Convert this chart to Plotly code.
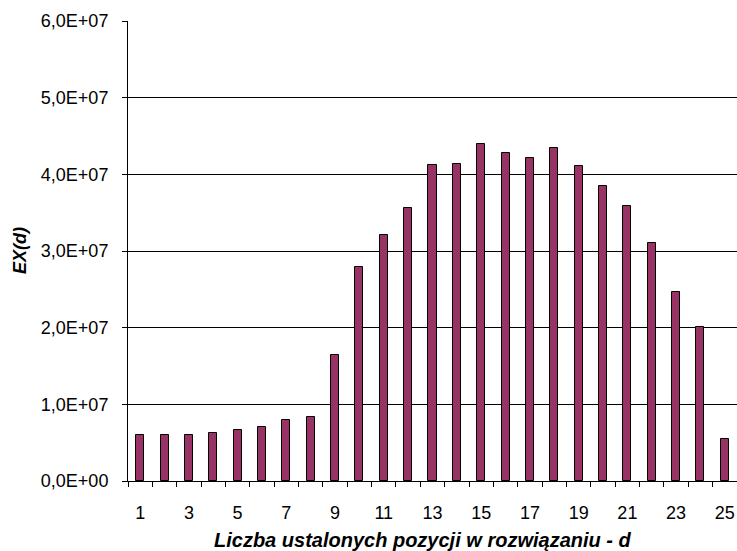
import plotly.graph_objects as go

d_values = list(range(1, 26))
ex_values = [6.0e6, 6.0e6, 5.95e6, 6.27e6, 6.7e6, 7.05e6, 7.93e6, 8.4e6, 16.46e6, 27.87e6,
             32.05e6, 35.57e6, 41.2e6, 41.3e6, 44.0e6, 42.8e6, 42.1e6, 43.4e6, 41.1e6, 38.5e6,
             35.9e6, 31.1e6, 24.7e6, 20.1e6, 5.5e6]
x_tick_vals = list(range(1, 26, 2))
y_tick_vals = [0, 1e7, 2e7, 3e7, 4e7, 5e7, 6e7]
y_tick_text = ["0,0E+00", "1,0E+07", "2,0E+07", "3,0E+07", "4,0E+07", "5,0E+07", "6,0E+07"]
x_title = "Liczba ustalonych pozycji w rozwiązaniu - d"
y_title = "EX(d)"

FONT = "Liberation Sans, Arial, sans-serif"

fig = go.Figure(go.Bar(
    x=d_values, y=ex_values, width=0.33,
    marker=dict(color="#993366", line=dict(color="black", width=1)),
))

fig.update_layout(
    width=737, height=551,
    margin=dict(l=128, r=0, t=21, b=70),
    paper_bgcolor="white", plot_bgcolor="white",
    font=dict(family=FONT, color="black", size=18),
    showlegend=False,
    bargap=0,
    annotations=[
        dict(text="<b><i>" + x_title + "</i></b>", xref="paper", yref="paper",
             x=0.4836, y=0, xanchor="center", yanchor="middle", yshift=-59,
             showarrow=False, font=dict(size=20)),
        dict(text="<b><i>" + y_title + "</i></b>", xref="paper", yref="paper",
             x=0, y=0.5, xanchor="center", yanchor="middle", xshift=-108,
             textangle=-90, showarrow=False, font=dict(size=18)),
    ],
)
fig.update_xaxes(
    range=[0.5, 25.5], tickvals=x_tick_vals,
    ticks="outside", ticklen=5, tickcolor="rgba(0,0,0,0)",
    minor=dict(tick0=0.5, dtick=1, ticks="outside", ticklen=5, tickcolor="black", tickwidth=1),
    showline=True, linecolor="black", linewidth=1,
    showgrid=False, zeroline=False,
    tickfont=dict(size=18), ticklabelstandoff=10,
)
fig.update_yaxes(
    range=[0, 6e7], tickvals=y_tick_vals, ticktext=y_tick_text,
    ticks="outside", ticklen=5, tickcolor="black",
    showline=True, linecolor="black", linewidth=1,
    showgrid=True, gridcolor="black", gridwidth=1, zeroline=False,
    tickfont=dict(size=18), ticklabelstandoff=10,
)

fig.write_html("out.html", config={"displayModeBar": False},
               post_script="document.body.style.margin='0';document.body.style.overflow='hidden';")
